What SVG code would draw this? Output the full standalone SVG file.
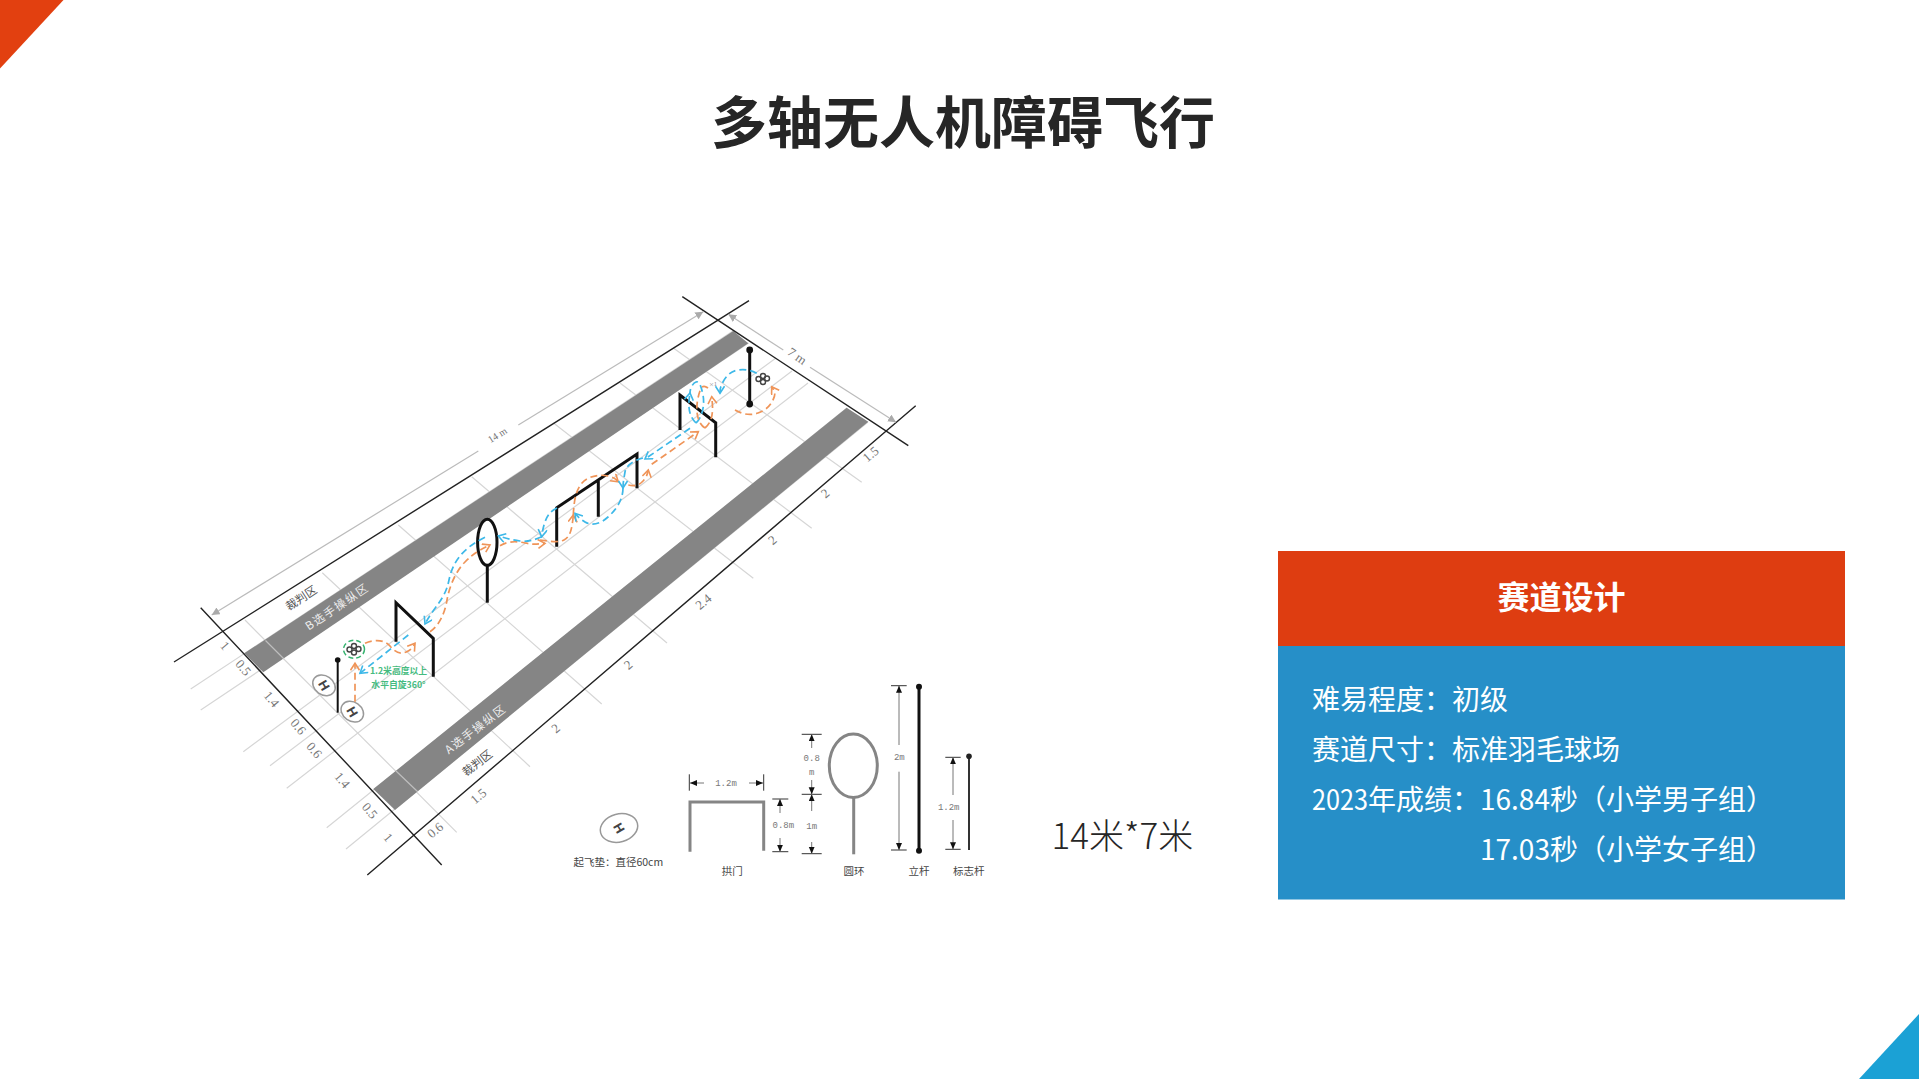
<svg xmlns="http://www.w3.org/2000/svg" width="1919" height="1079" viewBox="0 0 1919 1079">
<style>
text{font-family:"Noto Sans CJK SC","Liberation Sans",sans-serif}
.grid{stroke:#d6d6d6;stroke-width:1.2;fill:none}
.border{stroke:#222;stroke-width:1.4;fill:none}
.dim{stroke:#bbb;stroke-width:1.2;fill:none}
.num{font-family:"Liberation Serif","Noto Sans CJK SC",serif;font-size:13px;fill:#777;text-anchor:middle;dominant-baseline:central}
.band{fill:#858585}
.blk{stroke:#111;stroke-width:3;fill:none}
.blue{stroke:#3db8e8;stroke-width:1.7;fill:none;stroke-dasharray:7 4;marker-end:url(#ab)}
.or{stroke:#ef9458;stroke-width:1.7;fill:none;stroke-dasharray:7 4;marker-end:url(#ao)}
.nm{marker-end:none}
.zone{font-size:11.5px;fill:#eee;text-anchor:middle;dominant-baseline:central;letter-spacing:1.5px}
.ref{font-size:11.5px;fill:#555;text-anchor:middle;dominant-baseline:central}
.pad{fill:#fff;stroke:#999;stroke-width:1.5}
.h{font-family:"Liberation Sans",sans-serif;font-size:13px;font-weight:bold;fill:#444;text-anchor:middle;dominant-baseline:central}
.gry{stroke:#858585;stroke-width:3;fill:none}
.tk{stroke:#333;stroke-width:1;fill:none}
.ar{stroke:#777;stroke-width:1;fill:none;marker-end:url(#as)}
.lab{font-size:10.5px;fill:#444;text-anchor:middle;dominant-baseline:central}
.sm{font-family:"Liberation Mono",monospace;font-size:9px;fill:#777;text-anchor:middle;dominant-baseline:central}
.body{font-size:28px;fill:#fff}
.drone{fill:none;stroke:#444;stroke-width:1.4}
</style>
<defs>
<marker id="ab" markerUnits="userSpaceOnUse" markerWidth="12" markerHeight="12" refX="8" refY="5" orient="auto"><path d="M1 0.5L8 5L1 9.5" fill="none" stroke="#3db8e8" stroke-width="1.6"/></marker>
<marker id="ao" markerUnits="userSpaceOnUse" markerWidth="12" markerHeight="12" refX="8" refY="5" orient="auto"><path d="M1 0.5L8 5L1 9.5" fill="none" stroke="#ef9458" stroke-width="1.6"/></marker>
<marker id="as" markerUnits="userSpaceOnUse" markerWidth="8" markerHeight="8" refX="7" refY="3" orient="auto"><path d="M0 0L7 3L0 6Z" fill="#111"/></marker>
<marker id="ag" markerUnits="userSpaceOnUse" markerWidth="10" markerHeight="10" refX="8" refY="4" orient="auto-start-reverse"><path d="M0 0L8 4L0 8Z" fill="#aaa"/></marker>
</defs>
<rect width="1919" height="1079" fill="#fff"/>
<polygon id="corner-tl" points="0,0 63.5,0 0,68.5" fill="#E24010"/>
<polygon id="corner-br" points="1919,1014 1919,1079 1859,1079" fill="#1BA1D5"/>
<text id="title" x="963" y="143" font-size="56" font-weight="700" fill="#262626" text-anchor="middle">多轴无人机障碍飞行</text>

<g id="field-grid">
<path class="grid" d="M190.7 689L733 331M200.7 710L748.5 343M243.3 751.7L776 358M270 765.7L792 371M286.7 788.3L808 383M326.7 827.7L847 408M346 849L868 422"/>
<path class="grid" d="M245 620L456.7 832.3M322.3 572.7L530 766.7M398.3 525L601.7 704M471.7 476.7L667 643M553.5 423L753.3 578.3M620 383L811.7 528.3M673.3 348L861.7 482.3"/>
</g>
<g id="bands">
<polygon class="band" points="244.3,653.3 733.3,331 748.3,343.3 263.3,672.3"/>
<polygon class="band" points="373.3,789 846.7,407.7 868.3,421.7 395,810"/>
<path class="grid" d="M265.5 640.5L284.5 659.5M396 771L418 792" stroke-opacity=".7"/>
</g>
<g id="field-lines">
<path class="border" d="M174 662L749 300.7M200.7 607.7L441.7 865M682.3 296.7L908.3 445.7M367.3 875L915.7 405.7"/>
<path class="dim" marker-start="url(#ag)" d="M211.7 615L478.3 451"/>
<path class="dim" marker-end="url(#ag)" d="M518.3 425L703.3 311.7"/>
<path class="dim" marker-start="url(#ag)" d="M728.3 314.3L783.3 350"/>
<path class="dim" marker-end="url(#ag)" d="M810 367.3L896 422.3"/>
</g>
<g id="field-labels">
<text class="num" transform="translate(497.3 435) rotate(-32)" style="font-size:10px">14 m</text>
<text class="num" transform="translate(797.3 356) rotate(35)">7 m</text>
<text class="num" transform="translate(225 645.7) rotate(50)">1</text>
<text class="num" transform="translate(243.3 667.7) rotate(50)">0.5</text>
<text class="num" transform="translate(271.7 699) rotate(50)">1.4</text>
<text class="num" transform="translate(298.3 726.7) rotate(50)">0.6</text>
<text class="num" transform="translate(314.3 750) rotate(50)">0.6</text>
<text class="num" transform="translate(342.3 780) rotate(50)">1.4</text>
<text class="num" transform="translate(370 810.7) rotate(50)">0.5</text>
<text class="num" transform="translate(388.3 837.3) rotate(50)">1</text>
<text class="num" transform="translate(435 830) rotate(-40)">0.6</text>
<text class="num" transform="translate(478.3 796) rotate(-40)">1.5</text>
<text class="num" transform="translate(555.7 728.3) rotate(-40)">2</text>
<text class="num" transform="translate(628 664.6) rotate(-40)">2</text>
<text class="num" transform="translate(703.3 601.7) rotate(-40)">2.4</text>
<text class="num" transform="translate(772.3 540) rotate(-40)">2</text>
<text class="num" transform="translate(825 493.3) rotate(-40)">2</text>
<text class="num" transform="translate(870.7 454) rotate(-40)">1.5</text>
<text class="zone" transform="translate(336.6 606) rotate(-34)">B选手操纵区</text>
<text class="zone" transform="translate(475 728.3) rotate(-37)">A选手操纵区</text>
<text class="ref" transform="translate(300.7 597.3) rotate(-33)">裁判区</text>
<text class="ref" transform="translate(476.7 762.3) rotate(-38)">裁判区</text>
<text transform="translate(713 386)" font-size="5" fill="#777" text-anchor="middle">×1</text>
</g>
<g id="pad-a"><ellipse class="pad" cx="324" cy="685.3" rx="12" ry="9.5" transform="rotate(35 324 685.3)"/><text class="h" transform="translate(324 685.3) rotate(60)">H</text></g>
<g id="pad-b"><ellipse class="pad" cx="352.3" cy="711.7" rx="12" ry="9.5" transform="rotate(35 352.3 711.7)"/><text class="h" transform="translate(352.3 711.7) rotate(60)">H</text></g>
<g id="mark-pole"><path d="M337.7 660V712.7" stroke="#111" stroke-width="2" fill="none"/><circle cx="337.7" cy="660" r="2.8" fill="#111"/></g>
<g id="arch-1"><path class="blk" d="M396 641.7V602.7L433.3 638.3V676.7"/></g>
<g id="ring-gate"><ellipse class="blk" cx="487.3" cy="542.3" rx="9.7" ry="23"/><path class="blk" d="M487.3 565V602.7"/></g>
<g id="triple-gate"><path class="blk" d="M556.7 546.7V507.7L637 454V488.3M598.3 481V516.7"/></g>
<g id="arch-3"><path class="blk" d="M680 430V395L715.7 422.7V457.3"/></g>
<g id="pole"><path class="blk" d="M749.7 350V404"/><circle cx="749.7" cy="350" r="3.4" fill="#111"/><circle cx="749.7" cy="404" r="3.4" fill="#111"/></g>
<g id="drone-start"><ellipse cx="354" cy="649.3" rx="10.5" ry="9" fill="none" stroke="#35b36f" stroke-width="1.5" stroke-dasharray="5 3"/><g class="drone"><circle cx="349.5" cy="649.5" r="2.5"/><circle cx="354" cy="646" r="2.5"/><circle cx="358.5" cy="649" r="2.5"/><circle cx="354" cy="652.5" r="2.5"/></g></g>
<g id="drone-end" class="drone"><circle cx="758.5" cy="379" r="2.5"/><circle cx="763" cy="376" r="2.5"/><circle cx="767" cy="378.5" r="2.5"/><circle cx="763" cy="382" r="2.5"/></g>
<g id="spin-label" font-size="8.8" font-weight="700" fill="#45bb80" text-anchor="middle"><text x="398.5" y="674">1.2米高度以上</text><text x="398.5" y="688">水平自旋360°</text></g>

<g id="connectors">
<path class="or" d="M355 701.7V663.3"/>
<path class="or" d="M365 643.3C375 639 385 640 390 646S400 655 406.7 651.7S413 646 415 643.3"/>
<path class="blue" d="M408.3 635L360 673.3"/>
<path class="blue" d="M485 537.3C465 547 453 560 449 580S435 605 425 624"/>
<path class="or" d="M430 631.7C440 625 445 612 447 600S455 572 465 562S480 550 490 545"/>
<path class="or" d="M500 545.7C508 541 516 541 525 543S538 544 545 543.3"/>
<path class="blue" d="M541.7 536.7C534 540 528 542 520 541S505 538 498.3 536"/>
<path class="blue" d="M557 508C548 512 544 520 541.7 536.7"/>
<path class="or" d="M540 540C548 541 558 543 564 540S572 530 573.3 515"/>
<path class="or" d="M573.3 515C574 500 576 490 582 483S600 474 608 476S615 479 618.3 481.7"/>
<path class="or" d="M628.3 485C633 486 638 486 642 482S647 476 648.3 470"/>
<path class="blue" d="M643 458C632 461 626 466 625 472S623 482 623 488"/>
<path class="blue" d="M623 488C623 498 618 508 608 517S590 525 585 522S578 517 575 513.3"/>
<path class="blue" d="M690 428.3L645 459"/>
<path class="or" d="M651.7 464.3L698.3 431.7"/>
<path class="blue" d="M696 423C688 415 688 405 690 393"/>
<path class="blue nm" d="M696 423C702 418 705 405 703 395S699 381 696 382S690 388 690 393"/>
<path class="or" d="M705 428C714 420 713 408 711.7 396.7"/>
<path class="or nm" d="M705 428C698 424 695 412 698 398S704 385 708 388"/>
<path class="blue" d="M756.7 373.3C750 370 745 369 738 370S726 376 723 382S720 388 720 393.3"/>
<path class="or" d="M735 410C742 414 750 416 758 413S770 406 773 400S775 392 771.7 386.7"/>
</g>

<g id="legend-pad"><ellipse class="pad" cx="619" cy="828" rx="19" ry="14" transform="rotate(-15 619 828)"/><text class="h" transform="translate(619 828) rotate(60)">H</text><text class="lab" x="618.3" y="861">起飞垫：直径60cm</text></g>
<g id="legend-arch"><path class="gry" d="M690 851.7V802H763.7V850.7"/>
<path class="tk" d="M689.3 774.3V790.7M763.7 774.3V790.7M772.3 799H788.3M772.3 851.7H788.3"/>
<path class="ar" d="M704 783H690"/><path class="ar" d="M749 783H763"/><path class="ar" d="M780 813V799"/><path class="ar" d="M780 838V851.7"/>
<text class="sm" x="726" y="784.3">1.2m</text><text class="sm" x="783.3" y="825.7">0.8m</text><text class="lab" x="732.3" y="870.7">拱门</text></g>
<g id="legend-ring"><ellipse class="gry" cx="853.3" cy="765.7" rx="24" ry="31.7"/><path class="gry" d="M853.7 797.4V854.3"/>
<path class="tk" d="M801.7 734.3H821.7M801.7 794.3H821.7M801.7 853.7H821.7"/>
<path class="ar" d="M811.7 748V734.3"/><path class="ar" d="M811.7 780V794.3"/><path class="ar" d="M811.7 811V794.3"/><path class="ar" d="M811.7 842V853.7"/>
<text class="sm" x="811.7" y="759.3">0.8</text><text class="sm" x="811.7" y="773.3">m</text><text class="sm" x="811.7" y="826.7">1m</text><text class="lab" x="854" y="870.7">圆环</text></g>
<g id="legend-pole"><path d="M919 686.7V850.7" stroke="#111" stroke-width="3" fill="none"/><circle cx="919" cy="686.7" r="3" fill="#111"/><circle cx="919" cy="850.7" r="3" fill="#111"/>
<path class="tk" d="M891 685.7H906.7M891 850H906.7"/><path class="ar" d="M899 745V685.7"/><path class="ar" d="M899 771.7V850"/>
<text class="sm" x="899.3" y="758.3">2m</text><text class="lab" x="919" y="870.7">立杆</text></g>
<g id="legend-mark"><path d="M969 756.3V850" stroke="#333" stroke-width="2" fill="none"/><circle cx="969" cy="756.3" r="2.8" fill="#222"/>
<path class="tk" d="M945.3 757.3H960.7M945.3 849.3H960.7"/><path class="ar" d="M953 795V757.3"/><path class="ar" d="M953 820V849.3"/>
<text class="sm" x="948.7" y="808.3">1.2m</text><text class="lab" x="968.7" y="870.7">标志杆</text></g>

<text id="size-note" x="1122.4" y="849" font-size="35" font-weight="300" fill="#262626" text-anchor="middle">14米*7米</text>

<g id="panel">
<rect x="1278" y="551" width="567" height="95" fill="#DE3D11"/>
<rect x="1278" y="646" width="567" height="253.5" fill="#268FC8"/>
<text x="1561.5" y="609" font-size="32" font-weight="700" fill="#fff" text-anchor="middle">赛道设计</text>
<text class="body" x="1312" y="710">难易程度：初级</text>
<text class="body" x="1312" y="760">赛道尺寸：标准羽毛球场</text>
<text class="body" x="1312" y="810"><tspan textLength="56" lengthAdjust="spacingAndGlyphs">2023</tspan><tspan x="1368">年成绩：</tspan><tspan x="1480">16.84秒（小学男子组）</tspan></text>
<text class="body" x="1480" y="860">17.03秒（小学女子组）</text>
</g>
</svg>
